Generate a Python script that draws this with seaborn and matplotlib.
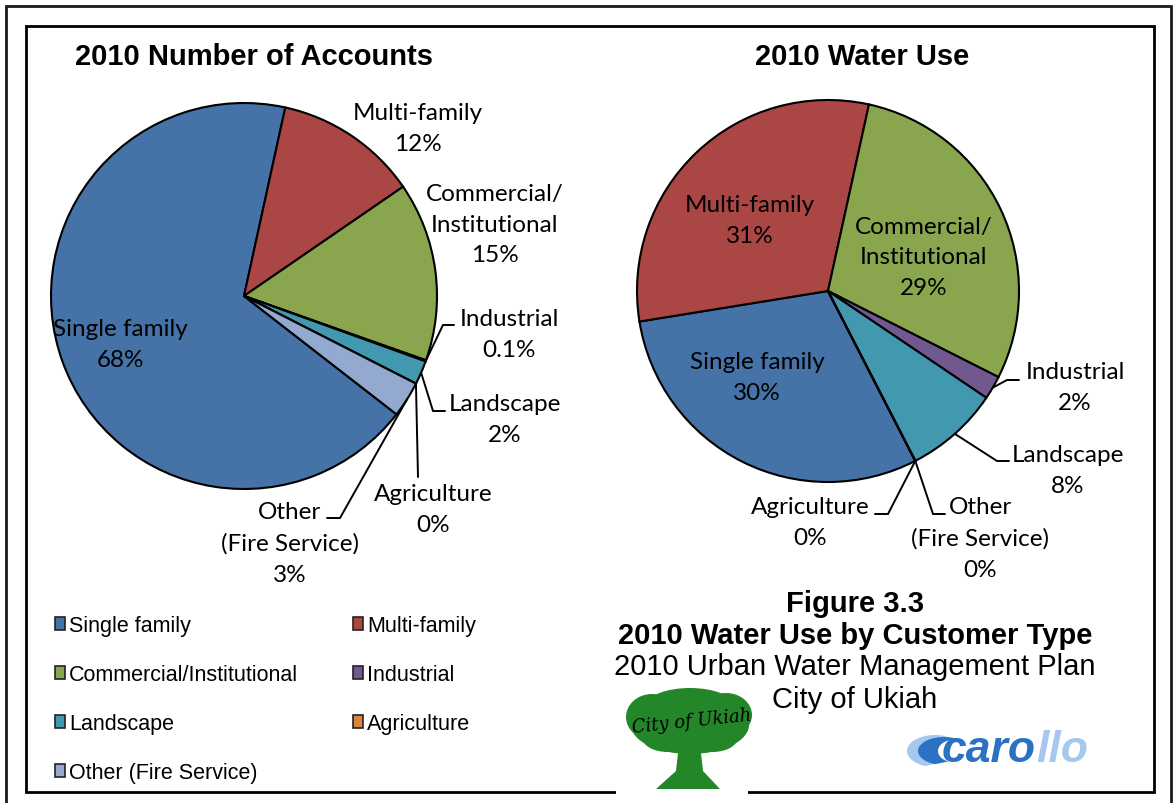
import numpy as np
import matplotlib
matplotlib.use("Agg")
import matplotlib.pyplot as plt
import seaborn as sns
from matplotlib.patches import Rectangle, Patch, Ellipse, Polygon

# ---- data -------------------------------------------------------------
categories = ["Single family", "Multi-family", "Commercial/Institutional",
              "Industrial", "Landscape", "Agriculture", "Other (Fire Service)"]
pie_names = ["Single family", "Multi-family", "Commercial/\nInstitutional",
             "Industrial", "Landscape", "Agriculture", "Other\n(Fire Service)"]
accounts_pct = [68, 12, 15, 0.1, 2, 0, 3]
water_use_pct = [30, 31, 29, 2, 8, 0, 0]
palette = sns.color_palette(["#4572A7", "#AA4643", "#89A54E", "#71588F",
                             "#4198AF", "#DB843D", "#93A9CF"])

W, H = 1173, 804
sns.set_theme(style="white")
plt.rcParams["font.family"] = ["Liberation Sans", "DejaVu Sans"]
plt.rcParams["text.color"] = "black"
LABEL_FONT = ["Lato", "DejaVu Sans"]
LABEL_SIZE = 17.5

fig = plt.figure(figsize=(W / 100, H / 100), dpi=100)
fig.patch.set_facecolor("white")


def fx(x):
    return x / W


def fy(y):
    return 1 - y / H


PAD = 1.06


def draw_pie(values, cx, cy, r, start, labels):
    ax = fig.add_axes([fx(cx - r * PAD), fy(cy + r * PAD),
                       2 * r * PAD / W, 2 * r * PAD / H])
    wedges, _ = ax.pie(values, colors=palette, startangle=start,
                       counterclock=False, radius=1,
                       wedgeprops=dict(edgecolor="black", linewidth=1.5))
    ax.set_xlim(-PAD, PAD)
    ax.set_ylim(-PAD, PAD)
    ax.set_aspect("auto")
    ax.axis("off")

    def d(px, py):
        return (px - cx) / r, (cy - py) / r

    for i, (pos, path) in labels.items():
        text = f"{pie_names[i]}\n{values[i]:g}%"
        ax.text(*d(*pos), text, ha="center", va="center", family=LABEL_FONT,
                fontsize=LABEL_SIZE, linespacing=1.58, color="black",
                clip_on=False)
        if path:
            w = wedges[i]
            mid = np.deg2rad((w.theta1 + w.theta2) / 2)
            xs = [np.cos(mid)] + [d(*p)[0] for p in path]
            ys = [np.sin(mid)] + [d(*p)[1] for p in path]
            ax.plot(xs, ys, color="black", lw=1.4, clip_on=False,
                    solid_joinstyle="miter")
    return wedges


left_labels = {
    0: ((120, 345), None),
    1: ((418, 129), None),
    2: ((495, 225), None),
    3: ((509, 335), [(443, 326), (454, 326)]),
    4: ((505, 420), [(433, 412), (445, 412)]),
    5: ((433, 510), [(418, 478)]),
    6: ((290, 544), [(340, 519), (327, 519)]),
}
right_labels = {
    0: ((757, 378), None),
    1: ((750, 221), None),
    2: ((924, 258), None),
    3: ((1075, 388), [(1007, 381), (1019, 381)]),
    4: ((1068, 471), [(997, 462), (1009, 462)]),
    5: ((810, 523), [(888, 515), (875, 515)]),
    6: ((980, 539), [(933, 515), (945, 515)]),
}

wedges = draw_pie(accounts_pct, 244, 297, 193, -37.8, left_labels)
draw_pie(water_use_pct, 828, 292, 191, -62.8, right_labels)

# ---- titles -----------------------------------------------------------
fig.text(fx(254), fy(57), "2010 Number of Accounts", ha="center", va="center",
         fontsize=21, fontweight="bold")
fig.text(fx(862), fy(57), "2010 Water Use", ha="center", va="center",
         fontsize=21, fontweight="bold")

# ---- legend (two columns, row-major reading order) ---------------------
handles = [Patch(facecolor=palette[i], edgecolor="#222222", linewidth=1.2)
           for i in range(len(categories))]
legend_kw = dict(loc="upper left", frameon=False, borderpad=0, borderaxespad=0,
                 handlelength=0.45, handleheight=0.55, handletextpad=0.2,
                 labelspacing=1.3, fontsize=15.5)
for cols, x0 in (([0, 2, 4, 6], 55), ([1, 3, 5], 353)):
    leg = fig.legend([handles[i] for i in cols], [categories[i] for i in cols],
                     bbox_to_anchor=(fx(x0), fy(616)), **legend_kw)
    for t in leg.get_texts():
        t.set_color("black")

# ---- caption ----------------------------------------------------------
fig.text(fx(855), fy(604), "Figure 3.3", ha="center", va="center",
         fontsize=21, fontweight="bold")
fig.text(fx(855), fy(636), "2010 Water Use by Customer Type", ha="center",
         va="center", fontsize=21, fontweight="bold")
fig.text(fx(855), fy(667), "2010 Urban Water Management Plan", ha="center",
         va="center", fontsize=21)
fig.text(fx(855), fy(700), "City of Ukiah", ha="center", va="center",
         fontsize=21)

# ---- frames -----------------------------------------------------------
fig.add_artist(Rectangle((fx(6), fy(812)), 1165 / W, 805 / H,
                         transform=fig.transFigure, fill=False,
                         edgecolor="#1a1a1a", lw=2, zorder=1))
fig.add_artist(Rectangle((fx(26), fy(793)), 1128 / W, 766 / H,
                         transform=fig.transFigure, fill=False,
                         edgecolor="black", lw=2, zorder=1))


# ---- city emblem (tree) ----------------------------------------------
def px_patch(patch):
    patch.set_transform(fig.transFigure)
    fig.add_artist(patch)


px_patch(Rectangle((fx(616), fy(804)), 132 / W, 116 / H, facecolor="white",
                   edgecolor="none", zorder=2))
tree_green = "#23872A"
for (ex, ey, ew, eh) in [(690, 726, 118, 58), (652, 718, 52, 46),
                         (726, 716, 52, 44), (690, 706, 86, 34),
                         (668, 740, 50, 26), (712, 740, 50, 26)]:
    px_patch(Ellipse((fx(ex), fy(ey)), ew / W, eh / H, facecolor=tree_green,
                     edgecolor="none", zorder=3))
px_patch(Polygon([(fx(679), fy(745)), (fx(700), fy(745)), (fx(703), fy(772)),
                  (fx(720), fy(790)), (fx(656), fy(790)), (fx(676), fy(772))],
                 closed=True, facecolor=tree_green, edgecolor="none", zorder=3))
fig.text(fx(692), fy(722), "City of Ukiah", ha="center", va="center",
         fontsize=13, fontstyle="italic", family="DejaVu Serif", rotation=6,
         zorder=4)

# ---- consultant mark --------------------------------------------------
dark_blue, light_blue = "#2B72C4", "#A6C8EE"


def crescent(cx, cy, rx, ry, thick, color):
    t = np.linspace(np.deg2rad(70), np.deg2rad(250), 60)
    outer = [(fx(cx + rx * np.cos(a)), fy(cy - ry * np.sin(a))) for a in t]
    inner = [(fx(cx + thick + (rx - thick) * np.cos(a)),
              fy(cy - ry * 0.8 * np.sin(a))) for a in t[::-1]]
    px_patch(Polygon(outer + inner, closed=True, facecolor=color,
                     edgecolor="none", zorder=3))


crescent(935, 752, 28, 16, 9, light_blue)
crescent(944, 752, 26, 14, 10, dark_blue)
fig.text(fx(1036), fy(751), "caro", ha="right", va="center", fontsize=32,
         fontweight="bold", fontstyle="italic", color=dark_blue)
fig.text(fx(1036), fy(751), "llo", ha="left", va="center", fontsize=32,
         fontweight="bold", fontstyle="italic", color=light_blue)

fig.savefig("out.png", dpi=100, facecolor="white")
